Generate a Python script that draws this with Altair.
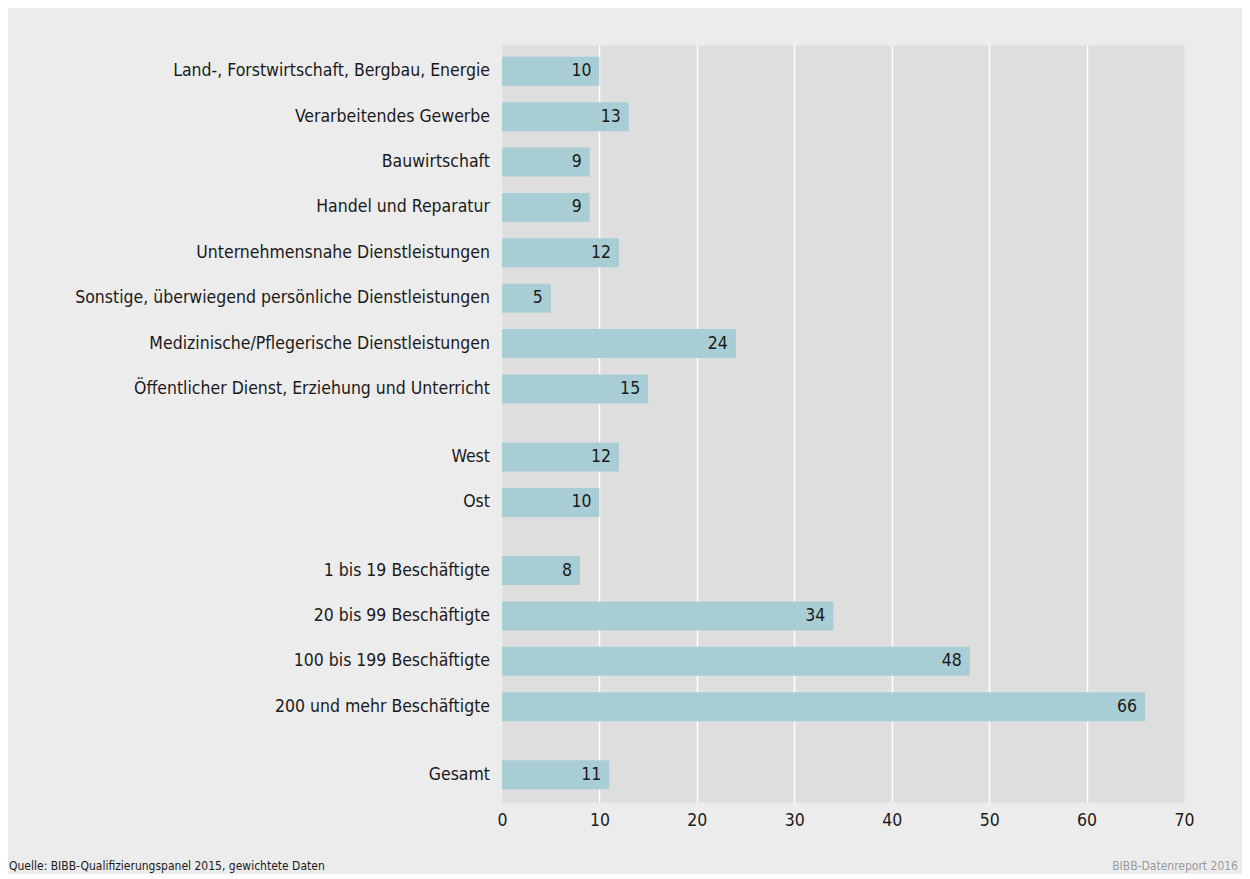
import altair as alt
import pandas as pd

categories = [
    "Land-, Forstwirtschaft, Bergbau, Energie",
    "Verarbeitendes Gewerbe",
    "Bauwirtschaft",
    "Handel und Reparatur",
    "Unternehmensnahe Dienstleistungen",
    "Sonstige, überwiegend persönliche Dienstleistungen",
    "Medizinische/Pflegerische Dienstleistungen",
    "Öffentlicher Dienst, Erziehung und Unterricht",
    "West",
    "Ost",
    "1 bis 19 Beschäftigte",
    "20 bis 99 Beschäftigte",
    "100 bis 199 Beschäftigte",
    "200 und mehr Beschäftigte",
    "Gesamt",
]
values = [10, 13, 9, 9, 12, 5, 24, 15, 12, 10, 8, 34, 48, 66, 11]
groups = [0] * 8 + [1] * 2 + [2] * 4 + [3]
x_ticks = [0, 10, 20, 30, 40, 50, 60, 70]
source_text = ["Quelle: BIBB-Qualifizierungspanel 2015, gewichtete Daten"]
report_text = ["BIBB-Datenreport 2016"]

FONT = "DejaVu Sans Condensed, Roboto Condensed, Noto Sans, sans-serif"
FS = 17.5
GROUP_GAP = 0.5

rows = [i + GROUP_GAP * g for i, g in enumerate(groups)]
df = pd.DataFrame({"Kategorie": categories, "Wert": values, "Zeile": rows})

W, H = 682, 757
yscale = alt.Scale(domain=[-0.58, max(rows) + 0.6], reverse=True, zero=False,
                   nice=False, padding=0)
xscale = alt.Scale(domain=[0, 70], nice=False, padding=0)

grid_color = alt.condition("datum.value == 0 || datum.value == 70",
                           alt.value("transparent"), alt.value("#ffffff"))

base = alt.Chart(df)

bars = base.mark_bar(orient="horizontal", size=29, color="#a9cdd4").encode(
    x=alt.X("Wert:Q", scale=xscale,
            axis=alt.Axis(values=x_ticks, grid=True, gridColor=grid_color, gridWidth=1.5,
                          domain=False, ticks=False, labelFontSize=FS, labelFont=FONT,
                          labelColor="#1a1a1a", labelPadding=9, labelFlush=False,
                          title=None)),
    y=alt.Y("Zeile:Q", scale=yscale, axis=None),
)

vals = base.mark_text(align="right", baseline="middle", dx=-8, fontSize=FS, font=FONT,
                      color="#1a1a1a").encode(
    x=alt.X("Wert:Q", scale=xscale),
    y=alt.Y("Zeile:Q", scale=yscale),
    text="Wert:Q",
)

cats = base.mark_text(align="right", baseline="middle", dx=-12, fontSize=FS, font=FONT,
                      color="#1a1a1a").encode(
    x=alt.value(0),
    y=alt.Y("Zeile:Q", scale=yscale),
    text="Kategorie:N",
)

src = alt.Chart(pd.DataFrame({"t": source_text})).mark_text(
    align="left", baseline="middle", fontSize=12, font=FONT, color="#1a1a1a"
).encode(x=alt.value(-493), y=alt.value(821), text="t:N")

rep = alt.Chart(pd.DataFrame({"t": report_text})).mark_text(
    align="right", baseline="middle", fontSize=12, font=FONT, color="#9a9a9a"
).encode(x=alt.value(736), y=alt.value(821), text="t:N")

chart = alt.layer(bars, vals, cats, src, rep).properties(
    width=W, height=H,
    autosize=alt.AutoSizeParams(type="none"),
    padding={"left": 494, "top": 37, "right": 58, "bottom": 72},
    background="#ececec",
).configure_view(fill="#dedede", stroke="transparent")

chart.save("out.html", embed_options={"renderer": "svg", "actions": False})
